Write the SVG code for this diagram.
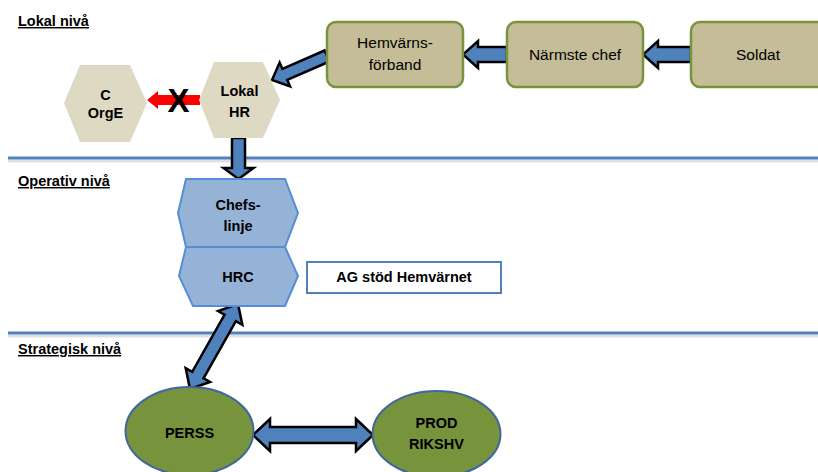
<svg xmlns="http://www.w3.org/2000/svg" width="818" height="472" viewBox="0 0 818 472">
<style>
text{font-family:"Liberation Sans",Arial,sans-serif;fill:#000}
.h{font-size:14.5px;font-weight:bold;text-decoration:underline}
.b{font-size:14.5px;font-weight:bold;text-anchor:middle}
.r{font-size:15.5px;text-anchor:middle}
.sep{stroke:#4F81BD;stroke-width:3}
.sh{stroke:#000;stroke-opacity:.12;stroke-width:3}
.box{fill:#C4BD97;stroke:#77933C;stroke-width:2.5}
.hexT{fill:#DDD9C3}
.hexB{fill:#95B3D7;stroke:#558ED5;stroke-width:2}
.ell{fill:#77933C;stroke:#3F66A0;stroke-width:2}
.arr{fill:#4F81BD;stroke:#000;stroke-width:2.5;stroke-linejoin:miter}
</style>
<rect width="818" height="472" fill="#fff"/>
<g id="levels">
<line class="sh" x1="8" y1="161" x2="818" y2="161"/>
<line class="sep" x1="8" y1="158" x2="818" y2="158"/>
<line class="sh" x1="8" y1="336" x2="818" y2="336"/>
<line class="sep" x1="8" y1="333" x2="818" y2="333"/>
<text class="h" x="18" y="26">Lokal nivå</text>
<text class="h" x="18" y="186">Operativ nivå</text>
<text class="h" x="18" y="354">Strategisk nivå</text>
</g>
<g id="connectors">
<polygon class="arr" transform="translate(327,56) rotate(156.4)" points="0,-6 46,-6 46,-13 60,0 46,13 46,6 0,6"/>
<polygon class="arr" transform="translate(507,54.5) rotate(180)" points="0,-7.5 29,-7.5 29,-13.5 44,0 29,13.5 29,7.5 0,7.5"/>
<polygon class="arr" transform="translate(691,54.5) rotate(180)" points="0,-7.5 33,-7.5 33,-13.5 48,0 33,13.5 33,7.5 0,7.5"/>
<polygon class="arr" transform="translate(238.5,138) rotate(90)" points="0,-6.5 30,-6.5 30,-15 41,0 30,15 30,6.5 0,6.5"/>
<polygon class="arr" transform="translate(190,389) rotate(-60.5)" points="0,0 16,-14 16,-6.5 81.6,-6.5 81.6,-14 97.6,0 81.6,14 81.6,6.5 16,6.5 16,14"/>
<polygon class="arr" transform="translate(253,435)" points="0,0 17,-16 17,-8 103,-8 103,-16 120,0 103,16 103,8 17,8 17,16"/>
<polygon fill="#FF0000" transform="translate(200,100) rotate(180)" points="0,-5 42,-5 42,-9 53,0 42,9 42,5 0,5"/>
<text x="178.5" y="112" font-size="33" font-weight="bold" text-anchor="middle">X</text>
</g>
<g id="n-hemvarnsforband">
<rect class="box" x="327" y="22" width="136" height="65" rx="9"/>
<text class="r" x="395" y="48">Hemvärns-</text>
<text class="r" x="395" y="70">förband</text>
</g>
<g id="n-narmstechef">
<rect class="box" x="507" y="22" width="136" height="65" rx="9"/>
<text class="r" x="575" y="60">Närmste chef</text>
</g>
<g id="n-soldat">
<rect class="box" x="691" y="22" width="136" height="65" rx="9"/>
<text class="r" x="758" y="60">Soldat</text>
</g>
<g id="n-corge">
<polygon class="hexT" points="80,65 130,65 147,103 130,142 80,142 64,103"/>
<text class="b" x="105.5" y="100">C</text>
<text class="b" x="105.5" y="118">OrgE</text>
</g>
<g id="n-lokalhr">
<polygon class="hexT" points="214,62 263,62 280,100 263,138 214,138 199,100"/>
<text class="b" x="239.5" y="96">Lokal</text>
<text class="b" x="239.5" y="117">HR</text>
</g>
<g id="n-chefslinje">
<polygon class="hexB" points="186,179 285,179 298,213 285,247 186,247 178,213"/>
<text class="b" x="238" y="210">Chefs-</text>
<text class="b" x="238" y="231">linje</text>
</g>
<g id="n-hrc">
<polygon class="hexB" points="186,247 285,247 298,276 285,306 193,306 179,276"/>
<text class="b" x="238" y="282">HRC</text>
</g>
<g id="n-agstod">
<rect x="307" y="262" width="194" height="31" fill="#fff" stroke="#4F81BD" stroke-width="2"/>
<text class="b" x="404" y="282">AG stöd Hemvärnet</text>
</g>
<g id="n-perss">
<ellipse class="ell" cx="189.5" cy="431" rx="64" ry="44"/>
<text class="b" x="189.5" y="438">PERSS</text>
</g>
<g id="n-prod">
<ellipse class="ell" cx="436.5" cy="434" rx="64" ry="43"/>
<text class="b" x="436.5" y="428">PROD</text>
<text class="b" x="436.5" y="449">RIKSHV</text>
</g>
</svg>
